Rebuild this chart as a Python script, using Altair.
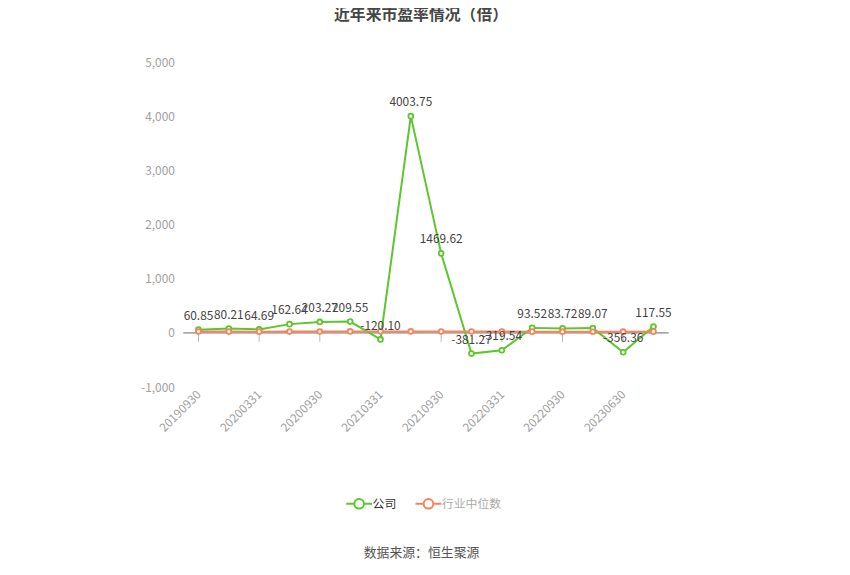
import altair as alt
import pandas as pd

dates = ["20190930", "20191231", "20200331", "20200630", "20200930", "20201231",
         "20210331", "20210630", "20210930", "20211231", "20220331", "20220630",
         "20220930", "20221231", "20230630", "20230930"]
labeled_dates = ["20190930", "20200331", "20200930", "20210331", "20210930",
                 "20220331", "20220930", "20230630"]
company = [60.85, 80.21, 64.69, 162.64, 203.27, 209.55, -120.10, 4003.75,
           1469.62, -381.27, -319.54, 93.52, 83.72, 89.07, -356.36, 117.55]
industry = [26, 25, 24, 25, 27, 28, 29, 28, 27, 26, 25, 24, 23, 22, 23, 24]
series_names = ["公司", "行业中位数"]
series_colors = ["#5cc62c", "#f7835a"]
y_ticks = [-1000, 0, 1000, 2000, 3000, 4000, 5000]

rows = []
for d, v in zip(dates, company):
    rows.append({"date": d, "series": series_names[0], "value": v})
for d, v in zip(dates, industry):
    rows.append({"date": d, "series": series_names[1], "value": v})
df = pd.DataFrame(rows)

FONT = "Noto Sans CJK SC"

x_enc = alt.X(
    "date:N", sort=dates,
    scale=alt.Scale(type="point", padding=0.5),
    axis=alt.Axis(values=labeled_dates, labelAngle=-45, labelColor="#a0a0a0",
                  labelFontSize=12, domain=False, ticks=False, labelPadding=5,
                  title="数据来源：恒生聚源", titleColor="#555", titleFontSize=13,
                  titleFontWeight="normal", titleX=240, titleY=167,
                  titleBaseline="middle", titleAlign="center", labelFont=FONT,
                  titleFont=FONT),
)
y_enc = alt.Y(
    "value:Q",
    scale=alt.Scale(domain=[-1000, 5000], nice=False, zero=False),
    axis=alt.Axis(values=y_ticks, format=",.0f",
                  labelExpr="replace(datum.label, '\u2212', '-')",
                  labelColor="#a0a0a0", labelFontSize=12,
                  domain=False, ticks=False, gridColor="#e3e7ef", labelPadding=9,
                  title=None, labelFont=FONT),
)

legend_path = ("M-2,0 L-0.75,0 M0.75,0 L2,0 "
               "M-0.75,0 A0.75,0.75 0 1,0 0.75,0 A0.75,0.75 0 1,0 -0.75,0 Z")

color_enc = alt.Color(
    "series:N",
    scale=alt.Scale(domain=series_names, range=series_colors),
    legend=alt.Legend(orient="none", legendX=170, legendY=438, direction="horizontal",
                      title=None, symbolType=legend_path, symbolSize=169,
                      symbolStrokeWidth=2, symbolFillColor="white",
                      symbolOpacity={"expr": "datum.label == '公司' ? 1 : 0.45"},
                      labelColor={"expr": "datum.label == '公司' ? '#333' : '#aaa'"},
                      labelFontSize=12, labelFont=FONT, columnPadding=14,
                      labelOffset=6),
)

base = alt.Chart(df)

zero_df = pd.DataFrame({"v": [0]})
zero_rule = alt.Chart(zero_df).mark_rule(color="#666", strokeWidth=1).encode(y=alt.datum(0))

tick_df = pd.DataFrame({"date": labeled_dates, "v": [0] * len(labeled_dates)})
ticks = alt.Chart(tick_df).mark_tick(orient="vertical", size=10, thickness=1,
                                     color="#999", yOffset=4).encode(
    x=alt.X("date:N", sort=dates), y=alt.Y("v:Q"))

lines = base.mark_line(strokeWidth=2).encode(x=x_enc, y=y_enc, color=color_enc)
points = base.mark_point(filled=False, fill="white", fillOpacity=1, size=24,
                         strokeWidth=1.8, opacity=1).encode(
    x=alt.X("date:N", sort=dates), y="value:Q",
    color=alt.Color("series:N", scale=alt.Scale(domain=series_names, range=series_colors)))
labels = base.transform_filter(alt.datum.series == "公司").transform_calculate(
    lbl="replace(format(datum.value, '.2f'), '\u2212', '-')"
).mark_text(
    baseline="bottom", dy=-7, fontSize=12, color="#444", font=FONT).encode(
    x=alt.X("date:N", sort=dates), y="value:Q",
    text=alt.Text("lbl:N"))

chart = alt.layer(zero_rule, ticks, lines, points, labels).properties(
    width=490, height=328,
    title=alt.Title("近年来市盈率情况（倍）", fontSize=16, fontWeight="bold",
                    color="#464646", offset=34, dx=-5, font=FONT),
    autosize=alt.AutoSizeParams(type="none"),
    padding={"left": 177, "top": 52, "right": 175, "bottom": 187},
).configure_view(stroke=None)

chart.save("out.html", embed_options={"renderer": "svg", "actions": False})
